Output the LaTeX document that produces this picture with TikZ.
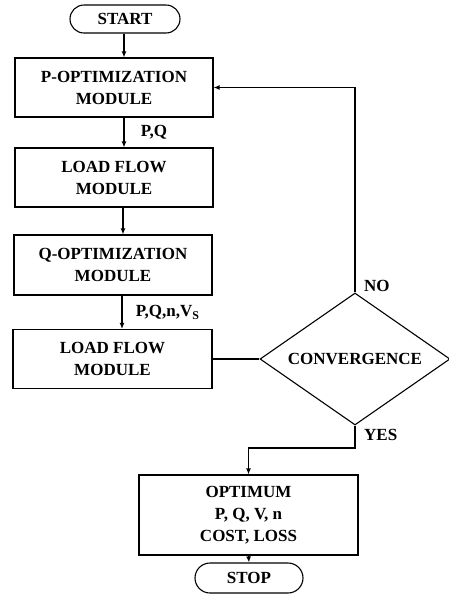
\documentclass[tikz,border=0pt]{standalone}
\usepackage{fontspec}
\setmainfont{Liberation Serif}
\usetikzlibrary{shapes.geometric,shapes.misc,arrows.meta}
\begin{document}
\begin{tikzpicture}[x=1pt,y=-1pt,
  every node/.style={font=\fontsize{17}{22}\selectfont\bfseries},
  module/.style={draw,line width=1.1pt,rectangle,align=center,inner sep=0pt},
  terminal/.style={draw,line width=1.1pt,rounded rectangle,inner sep=0pt},
  decision/.style={draw,line width=1.1pt,diamond,aspect=1.44,inner sep=0pt,
    minimum width=190pt,minimum height=132pt},
  flow/.style={line width=1.5pt,-{Latex[length=6pt,width=5pt]}},
  link/.style={line width=1.5pt},
  tag/.style={anchor=west,inner sep=0pt}]
\useasboundingbox (0,0) rectangle (448,614);

\node[terminal,minimum width=110pt,minimum height=28pt] (start) at (125,19) {START};
\node[module,minimum width=198pt,minimum height=59pt] (popt) at (114,87.5) {P-OPTIMIZATION\\MODULE};
\node[module,minimum width=198pt,minimum height=59pt] (lf1) at (114,177.5) {LOAD FLOW\\MODULE};
\node[module,minimum width=198pt,minimum height=60pt] (qopt) at (113,265) {Q-OPTIMIZATION\\MODULE};
\node[module,minimum width=199pt,minimum height=59pt] (lf2) at (112.5,359) {LOAD FLOW\\MODULE};
\node[decision] (conv) at (355,359) {CONVERGENCE};
\node[module,minimum width=219pt,minimum height=80pt] (opt) at (248.5,515) {OPTIMUM\\P, Q, V, n\\COST, LOSS};
\node[terminal,minimum width=108pt,minimum height=30pt] (stop) at (249,578) {STOP};

\coordinate (yesbend) at (355,448);

\draw[flow] (start.south -| 124,0) -- (124,0 |- popt.north);
\draw[flow] (popt.south -| 124,0) -- (124,0 |- lf1.north)
  node[tag,pos=0.5,xshift=16pt] {P,Q};
\draw[flow] (lf1.south -| 123,0) -- (123,0 |- qopt.north);
\draw[flow] (qopt.south -| 122,0) -- (122,0 |- lf2.north)
  node[tag,pos=0.5,xshift=13pt] {P,Q,n,V\textsubscript{S}};
\draw[link] (lf2.east) -- (conv.west);
\draw[flow] (conv.north) |- (popt.east);
\draw[flow] (conv.south) -- (yesbend) -| (opt.north);
\draw[flow] (opt.south) -- (stop.north);

\node[tag] (no) at (364,286) {NO};
\node[tag] (yes) at (364,435) {YES};
\end{tikzpicture}
\end{document}
